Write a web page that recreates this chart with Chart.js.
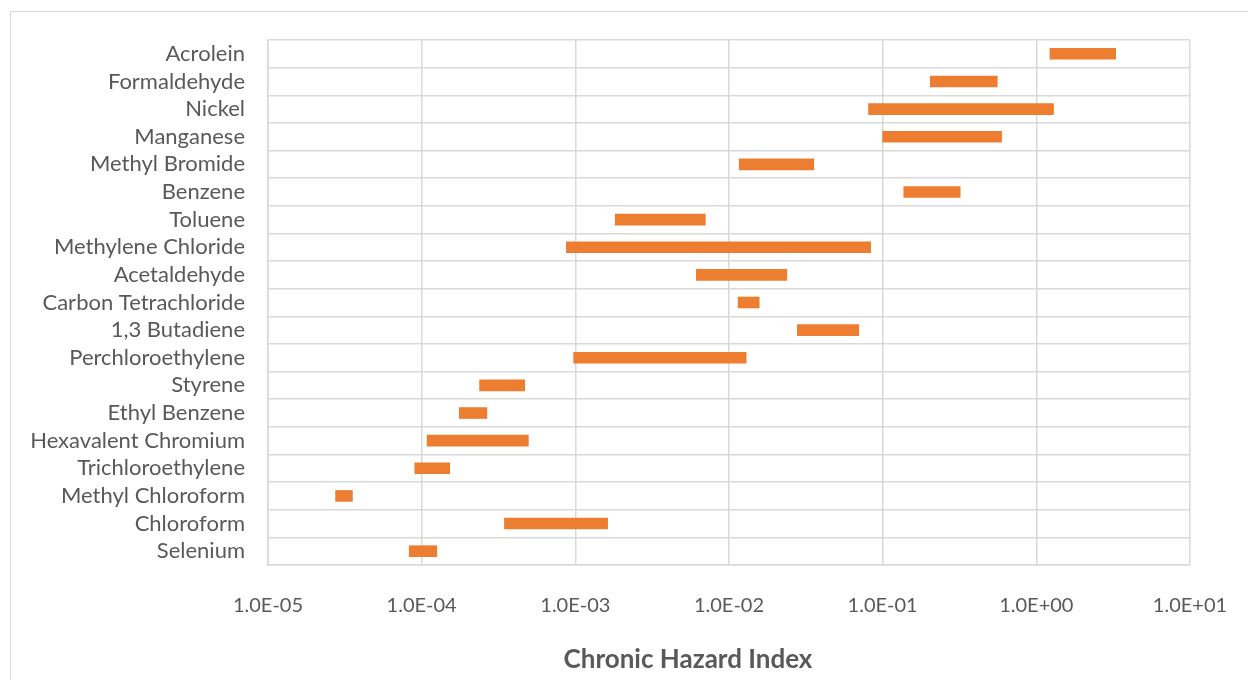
<!DOCTYPE html>
<html>
<head>
<meta charset="utf-8">
<script src="https://cdn.jsdelivr.net/npm/chart.js@4"></script>
<style>
  html, body { margin: 0; padding: 0; background: #fff; }
</style>
</head>
<body>
<canvas id="hazardChart" width="1248" height="680"></canvas>
<script>
var categories = [
  "Acrolein", "Formaldehyde", "Nickel", "Manganese", "Methyl Bromide",
  "Benzene", "Toluene", "Methylene Chloride", "Acetaldehyde",
  "Carbon Tetrachloride", "1,3 Butadiene", "Perchloroethylene", "Styrene",
  "Ethyl Benzene", "Hexavalent Chromium", "Trichloroethylene",
  "Methyl Chloroform", "Chloroform", "Selenium"
];
// low / high end of each hazard index range
var lowValues = [
  1.22, 0.203, 0.0805, 0.0995, 0.0116,
  0.1365, 0.00181, 0.00087, 0.0061,
  0.0114, 0.0277, 0.00097, 0.000237,
  0.000175, 0.000108, 0.0000898,
  0.0000274, 0.000344, 0.0000826
];
var highValues = [
  3.30, 0.56, 1.30, 0.597, 0.0358,
  0.321, 0.00705, 0.084, 0.0239,
  0.0158, 0.0702, 0.0130, 0.000471,
  0.000267, 0.000497, 0.000153,
  0.0000356, 0.00163, 0.000126
];
var tickValues = [1e-5, 1e-4, 1e-3, 1e-2, 1e-1, 1, 10];
var axisTitle = "Chronic Hazard Index";

function sciLabel(v) {
  var e = Math.round(Math.log10(v));
  var a = Math.abs(e);
  return "1.0E" + (e < 0 ? "-" : "+") + (a < 10 ? "0" : "") + a;
}

var ranges = categories.map(function (c, i) {
  return [lowValues[i], highValues[i]];
});

var frame = {
  id: "frame",
  beforeDraw: function (chart) {
    var ctx = chart.ctx;
    ctx.save();
    ctx.strokeStyle = "#d9d9d9";
    ctx.lineWidth = 1;
    ctx.strokeRect(10.5, 11.5, 1400, 800);
    ctx.restore();
  },
  afterDraw: function (chart) {
    var ctx = chart.ctx;
    ctx.save();
    ctx.font = "bold 26px Lato";
    ctx.fillStyle = "#595959";
    ctx.textAlign = "center";
    ctx.textBaseline = "middle";
    ctx.fillText(axisTitle, 688, 660);
    ctx.restore();
  }
};

var ctx = document.getElementById("hazardChart").getContext("2d");
var hazardChart = new Chart(ctx, {
  type: "bar",
  data: {
    labels: categories,
    datasets: [
      {
        data: ranges,
        backgroundColor: "#ed7d31",
        borderWidth: 0,
        barPercentage: 0.42,
        categoryPercentage: 1,
      },
    ],
  },
  options: {
    indexAxis: "y",
    responsive: false,
    animation: false,
    layout: {
      padding: { left: 0, right: 58, top: 40, bottom: 0 },
    },
    plugins: {
      legend: { display: false },
      tooltip: { enabled: false },
    },
    scales: {
      x: {
        type: "logarithmic",
        min: 1e-5,
        max: 10,
        afterBuildTicks: function (scale) {
          scale.ticks = tickValues.map(function (v) { return { value: v }; });
        },
        afterFit: function (scale) {
          scale.height = 115;
          scale.paddingLeft = 0;
          scale.paddingRight = 0;
        },
        grid: { color: "#d9d9d9", lineWidth: 1.5, drawTicks: false },
        border: { color: "#d9d9d9", width: 1.5 },
        ticks: {
          padding: 29,
          color: "#595959",
          font: { family: "Lato", size: 20 },
          maxRotation: 0,
          callback: function (v) { return sciLabel(v); },
        },
      },
      y: {
        afterFit: function (scale) {
          scale.width = 268;
          scale.paddingTop = 0;
          scale.paddingBottom = 0;
        },
        grid: { color: "#d9d9d9", lineWidth: 1.5, drawTicks: false },
        border: { color: "#d9d9d9", width: 1.5 },
        ticks: {
          padding: 23,
          color: "#595959",
          font: { family: "Lato", size: 22 },
          autoSkip: false,
        },
      },
    },
  },
  plugins: [frame],
});
</script>
</body>
</html>
